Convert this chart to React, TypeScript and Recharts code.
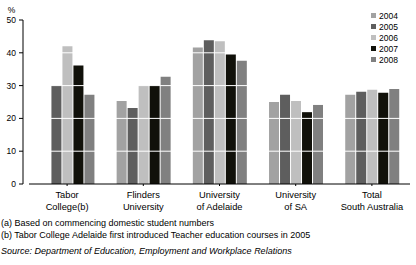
import { BarChart, Bar, XAxis, YAxis, ReferenceLine } from 'recharts';

const categories = [
  ['Tabor', 'College(b)'],
  ['Flinders', 'University'],
  ['University', 'of Adelaide'],
  ['University', 'of SA'],
  ['Total', 'South Australia'],
];
const years = ['2004', '2005', '2006', '2007', '2008'];
const colors = ['#a2a2a2', '#5e5e5e', '#bfbfbf', '#11110a', '#808080'];

const v2004 = [null, 25.3, 41.6, 25.0, 27.2];
const v2005 = [30.0, 23.2, 43.8, 27.2, 28.1];
const v2006 = [42.0, 30.0, 43.5, 25.3, 28.7];
const v2007 = [36.1, 30.0, 39.5, 21.9, 27.8];
const v2008 = [27.2, 32.7, 37.6, 24.1, 29.0];
const seriesValues = [v2004, v2005, v2006, v2007, v2008];

const yTicks = [0, 10, 20, 30, 40, 50];
const gridValues = [10, 20, 30, 40];

const footnotes = [
  '(a) Based on commencing domestic student numbers',
  '(b) Tabor College Adelaide first introduced Teacher education courses in 2005',
];
const source = 'Source: Department of Education, Employment and Workplace Relations';

const data = categories.map((c, i) => {
  const row: Record<string, any> = { name: c.join(' ') };
  years.forEach((y, k) => {
    row[y] = seriesValues[k][i];
  });
  return row;
});

const font = '"Liberation Sans", Arial, sans-serif';

function CategoryTick(props: any) {
  const { x, y, index } = props;
  const lines = categories[index] || [];
  return (
    <text x={x} y={y} textAnchor="middle" fontSize={9.3} fontFamily={font} fill="#000">
      {lines.map((l, i) => (
        <tspan key={i} x={x} dy={i === 0 ? 9.5 : 12.5}>
          {l}
        </tspan>
      ))}
    </text>
  );
}

export default function App() {
  return (
    <div style={{ position: 'absolute', left: 0, top: 0, width: 416, height: 265, fontFamily: font }}>
      <BarChart
        width={416}
        height={220}
        data={data}
        margin={{ top: 20, right: 6, left: 0, bottom: 0 }}
        barGap={1}
        barCategoryGap="15%"
      >
        <XAxis
          dataKey="name"
          height={36}
          interval={0}
          stroke="#000"
          tickSize={2}
          tick={<CategoryTick />}
        />
        <YAxis
          yAxisId="main"
          width={23}
          domain={[0, 50]}
          ticks={yTicks}
          stroke="#000"
          tickSize={4}
          tickMargin={3}
          tick={{ fontSize: 8.5, fill: '#000', fontFamily: font }}
          label={{ value: '%', position: 'top', offset: 7, fontSize: 8.5, fill: '#000', fontFamily: font }}
        />
        <YAxis yAxisId="gap" width={6} domain={[0, 50]} axisLine={false} tickLine={false} tick={false} />
        {years.map((y, k) => (
          <Bar key={y} yAxisId="main" dataKey={y} fill={colors[k]} isAnimationActive={false} />
        ))}
        {gridValues.map((g) => (
          <ReferenceLine key={g} yAxisId="main" y={g} stroke="#fff" strokeWidth={1} />
        ))}
      </BarChart>
      <div style={{ position: 'absolute', left: 371, top: 10 }}>
        {years.map((y, k) => (
          <div key={y} style={{ display: 'flex', alignItems: 'center', height: 11, fontSize: 8.5, color: '#000' }}>
            <span style={{ width: 5, height: 5, background: colors[k], marginRight: 3 }} />
            {y}
          </div>
        ))}
      </div>
      <div style={{ position: 'absolute', left: 1, top: 217, fontSize: 9, lineHeight: '12px', color: '#000' }}>
        {footnotes.map((f) => (
          <div key={f}>{f}</div>
        ))}
        <div style={{ fontStyle: 'italic', marginTop: 4 }}>{source}</div>
      </div>
    </div>
  );
}
